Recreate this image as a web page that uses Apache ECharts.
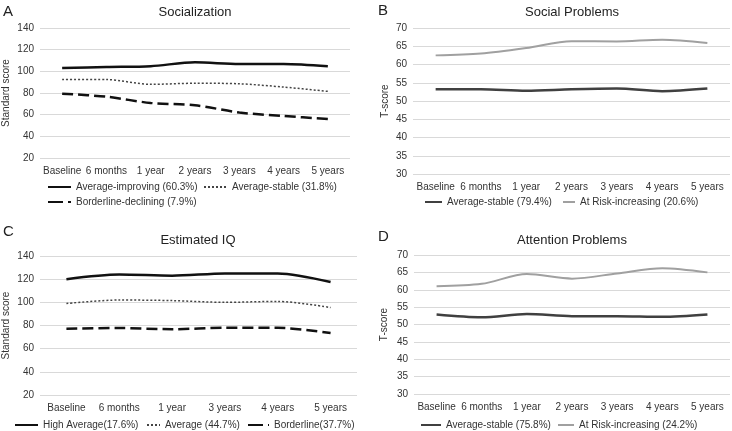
<!DOCTYPE html>
<html>
<head>
<meta charset="utf-8">
<script src="https://cdn.jsdelivr.net/npm/echarts@6/dist/echarts.min.js"></script>
<style>html,body{margin:0;padding:0;background:#fff;}#c{width:732px;height:431px;}</style>
</head>
<body>
<div id="c"></div>
<script>
const catsFull = ['Baseline', '6 months', '1 year', '2 years', '3 years', '4 years', '5 years'];
const catsIQ = ['Baseline', '6 months', '1 year', '3 years', '4 years', '5 years'];

const socImproving = [103, 104, 104.8, 108.3, 106.8, 106.8, 104.6];
const socStable = [92.5, 92.4, 88, 89, 88.5, 85.5, 81.5];
const socDeclining = [79.4, 76.6, 70.8, 68.7, 62, 58.8, 56];

const spAvg = [53.2, 53.2, 52.8, 53.2, 53.4, 52.7, 53.4];
const spRisk = [62.5, 63, 64.5, 66.4, 66.3, 66.8, 65.9];

const iqHigh = [120, 124, 123, 125, 125, 117.5];
const iqAvg = [99, 102, 101.5, 100, 100.8, 95.5];
const iqBorder = [77.2, 77.8, 76.8, 78, 78, 73.5];

const apAvg = [52.9, 52.1, 53, 52.4, 52.4, 52.2, 52.9];
const apRisk = [61, 61.7, 64.5, 63.2, 64.7, 66.2, 65];

const FONT = 'Liberation Sans, Arial, sans-serif';
const TXT = '#333';
const GRID = '#d9d9d9';

function xAx(gi, cats) {
  return {
    type: 'category', gridIndex: gi, data: cats, boundaryGap: true,
    axisLine: { show: false }, axisTick: { show: false },
    axisLabel: { color: TXT, fontSize: 10, fontFamily: FONT, margin: 8, interval: 0 }
  };
}
function yAx(gi, min, max, interval, name, gap) {
  return {
    type: 'value', gridIndex: gi, min: min, max: max, interval: interval,
    name: name, nameLocation: 'middle', nameGap: gap, nameRotate: 90,
    nameTextStyle: { color: TXT, fontSize: 10, fontFamily: FONT },
    axisLine: { show: false }, axisTick: { show: false },
    axisLabel: { color: TXT, fontSize: 10, fontFamily: FONT, margin: 6 },
    splitLine: { show: true, lineStyle: { color: GRID, width: 1 } }
  };
}
function line(name, data, gi, color, width, type) {
  return {
    type: 'line', name: name, data: data, xAxisIndex: gi, yAxisIndex: gi,
    smooth: 0.3, symbol: 'none', silent: true,
    lineStyle: { color: color, width: width, type: type || 'solid' },
    itemStyle: { color: color }
  };
}
function leg(item, left, cy, w) {
  return {
    data: [item], left: left, top: cy - 6, itemWidth: w, itemHeight: 10, itemGap: 0,
    itemStyle: { opacity: 0 },
    textStyle: { color: TXT, fontSize: 10, fontFamily: FONT }, padding: 0, selectedMode: false
  };
}
function ttl(text, left, top, size, center) {
  const t = { text: text, left: left, top: top, padding: 0, textStyle: { fontSize: size, fontWeight: 'normal', color: '#222', fontFamily: FONT } };
  if (center) t.textAlign = 'center';
  return t;
}

const option = {
  animation: false,
  backgroundColor: '#fff',
  title: [
    ttl('A', 3, 4, 15), ttl('B', 378, 3, 15), ttl('C', 3, 224, 15), ttl('D', 378, 229, 15),
    ttl('Socialization', 195, 6, 13, true),
    ttl('Social Problems', 572, 6, 13, true),
    ttl('Estimated IQ', 198, 234, 13, true),
    ttl('Attention Problems', 572, 234, 13, true)
  ],
  grid: [
    { left: 39, right: 382, top: 28, bottom: 273 },
    { left: 413, right: 2, top: 28, bottom: 257 },
    { left: 39, right: 375, top: 256, bottom: 36 },
    { left: 414, right: 2, top: 255, bottom: 37 }
  ],
  xAxis: [xAx(0, catsFull), xAx(1, catsFull), xAx(2, catsIQ), xAx(3, catsFull)],
  yAxis: [
    yAx(0, 20, 140, 20, 'Standard score', 29),
    yAx(1, 30, 70, 5, 'T-score', 23),
    yAx(2, 20, 140, 20, 'Standard score', 29),
    yAx(3, 30, 70, 5, 'T-score', 25)
  ],
  legend: [
    leg('Average-improving (60.3%)', 47, 188, 23),
    leg('Average-stable (31.8%)', 203, 188, 23),
    leg({ name: 'Borderline-declining (7.9%)', lineStyle: { type: [15, 5] } }, 47, 203, 23),
    leg('Average-stable (79.4%)', 424, 203, 17),
    leg('At Risk-increasing (20.6%)', 562, 203, 12),
    leg('High Average(17.6%)', 14, 426, 23),
    leg('Average (44.7%)', 146, 426, 13),
    leg({ name: 'Borderline(37.7%)', lineStyle: { type: [15, 5] } }, 247, 426, 21),
    leg('Average-stable (75.8%)', 420, 426, 20),
    leg('At Risk-increasing (24.2%)', 557, 426, 16)
  ],
  series: [
    line('Average-improving (60.3%)', socImproving, 0, '#111', 2.5),
    line('Average-stable (31.8%)', socStable, 0, '#444', 1.5, [2, 2]),
    line('Borderline-declining (7.9%)', socDeclining, 0, '#111', 2.5, [11, 5]),
    line('Average-stable (79.4%)', spAvg, 1, '#404040', 2.5),
    line('At Risk-increasing (20.6%)', spRisk, 1, '#a0a0a0', 2),
    line('High Average(17.6%)', iqHigh, 2, '#111', 2.5),
    line('Average (44.7%)', iqAvg, 2, '#444', 1.5, [2, 2]),
    line('Borderline(37.7%)', iqBorder, 2, '#111', 2.5, [11, 5]),
    line('Average-stable (75.8%)', apAvg, 3, '#404040', 2.5),
    line('At Risk-increasing (24.2%)', apRisk, 3, '#a0a0a0', 2)
  ]
};
const chart = echarts.init(document.getElementById('c'), null, { renderer: 'canvas' });
chart.setOption(option);
</script>
</body>
</html>
